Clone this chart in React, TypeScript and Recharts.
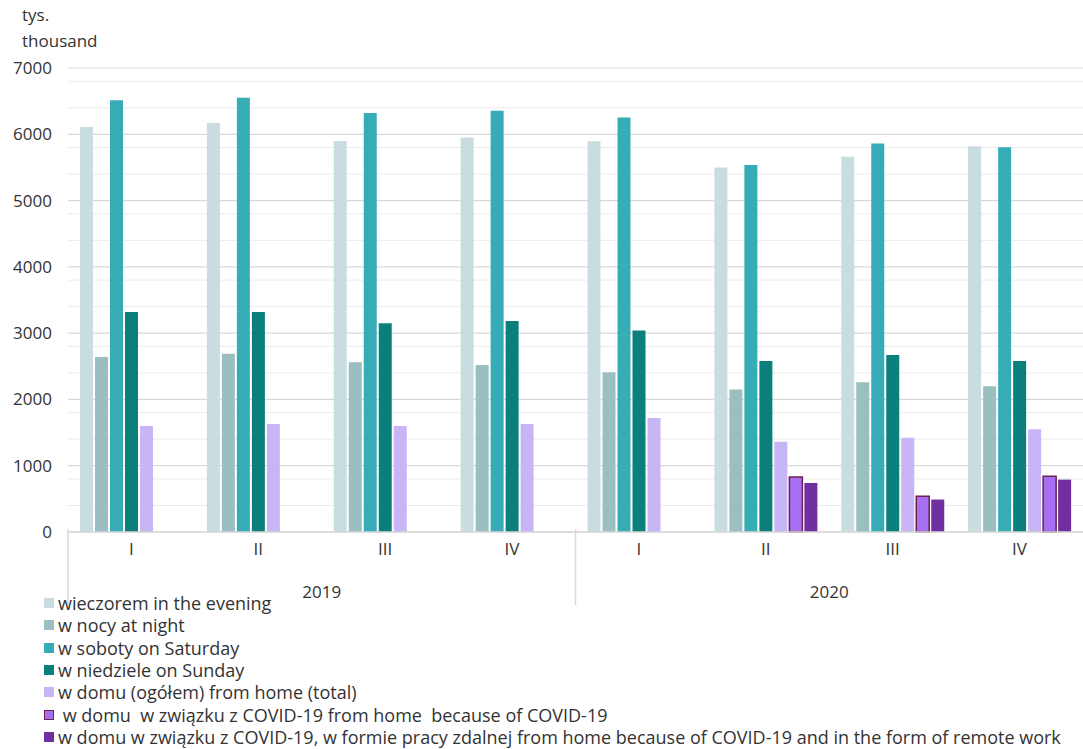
import { Bar, BarChart, CartesianGrid, Legend, XAxis, YAxis } from "recharts";

const quarters = ["I", "II", "III", "IV", "I", "II", "III", "IV"];
const years = ["2019", "2019", "2019", "2019", "2020", "2020", "2020", "2020"];

const evening = [6110, 6170, 5900, 5950, 5895, 5500, 5660, 5820];
const night = [2640, 2690, 2560, 2520, 2410, 2150, 2260, 2200];
const saturday = [6515, 6550, 6320, 6355, 6255, 5535, 5860, 5805];
const sunday = [3320, 3320, 3150, 3185, 3040, 2580, 2670, 2580];
const homeTotal = [1600, 1630, 1600, 1630, 1720, 1360, 1420, 1550];
const homeCovid = [null, null, null, null, null, 830, 540, 840];
const homeRemote = [null, null, null, null, null, 740, 490, 790];

const yTicks = [0, 1000, 2000, 3000, 4000, 5000, 6000, 7000];
const minorTicks = [
  200, 400, 600, 800, 1200, 1400, 1600, 1800, 2200, 2400, 2600, 2800, 3200, 3400, 3600, 3800,
  4200, 4400, 4600, 4800, 5200, 5400, 5600, 5800, 6200, 6400, 6600, 6800,
];

const series = [
  { key: "evening", name: "wieczorem in the evening", color: "#c9dcdf" },
  { key: "night", name: "w nocy at night", color: "#9bbfc1" },
  { key: "saturday", name: "w soboty on Saturday", color: "#36adb6" },
  { key: "sunday", name: "w niedziele on Sunday", color: "#0b7f7c" },
  { key: "homeTotal", name: "w domu (ogółem) from home (total)", color: "#c8b5f6" },
  { key: "homeCovid", name: " w domu  w związku z COVID-19 from home  because of COVID-19", color: "#a66ef0", stroke: "#6e2050" },
  {
    key: "homeRemote",
    name: "w domu w związku z COVID-19, w formie pracy zdalnej from home because of COVID-19 and in the form of remote work",
    color: "#7030a0",
  },
];

const data = quarters.map((q, i) => ({
  q,
  year: years[i],
  evening: evening[i],
  night: night[i],
  saturday: saturday[i],
  sunday: sunday[i],
  homeTotal: homeTotal[i],
  homeCovid: homeCovid[i],
  homeRemote: homeRemote[i],
}));

const FONT = "'Open Sans', sans-serif";

function YearTick(props: any) {
  const { x, y, payload } = props;
  const half = 1015 / 4;
  return (
    <g>
      <line x1={x - half} x2={x - half} y1={y - 43} y2={y + 33} stroke="#d9d9d9" strokeWidth={1.5} />
      <text x={x} y={y + 26} textAnchor="middle" fontSize={17} fill="#333" fontFamily={FONT}>
        {payload.value}
      </text>
    </g>
  );
}

function LegendBox() {
  return (
    <div style={{ fontFamily: FONT, fontSize: 18, color: "#333" }}>
      {series.map((s) => (
        <div key={s.key} style={{ display: "flex", alignItems: "center", height: 22.3, whiteSpace: "pre" }}>
          <span
            style={{
              display: "inline-block",
              width: s.stroke ? 8 : 10,
              height: s.stroke ? 8 : 10,
              background: s.color,
              border: s.stroke ? `1.5px solid ${s.stroke}` : "none",
              marginRight: 4,
            }}
          />
          {s.name}
        </div>
      ))}
    </div>
  );
}

export default function App() {
  return (
    <div style={{ position: "absolute", left: 0, top: 0, width: 1083, height: 749, background: "#fff" }}>
      <div style={{ position: "absolute", left: 22, top: 2, fontFamily: FONT, fontSize: 17, lineHeight: "26px", color: "#333" }}>
        <div>tys.</div>
        <div>thousand</div>
      </div>
      <BarChart
        width={1083}
        height={749}
        data={data}
        margin={{ top: 68, right: 0, left: 0, bottom: 140 }}
        barSize={13}
        barGap={2}
      >
        <CartesianGrid vertical={false} horizontalValues={minorTicks} stroke="#ebebeb" strokeWidth={1} />
        <CartesianGrid vertical={false} stroke="#d9d9d9" strokeWidth={1.2} />
        <XAxis
          dataKey="q"
          tickLine={false}
          axisLine={{ stroke: "#d9d9d9", strokeWidth: 1.5 }}
          tick={{ fontSize: 17, fill: "#333", fontFamily: FONT }}
          tickMargin={5}
          height={32}
        />
        <XAxis
          xAxisId="year"
          dataKey="year"
          allowDuplicatedCategory={false}
          tickLine={false}
          axisLine={false}
          tick={<YearTick />}
          height={45}
        />
        <YAxis
          width={68}
          domain={[0, 7000]}
          ticks={yTicks}
          tickLine={false}
          axisLine={false}
          tickSize={0}
          tickMargin={16}
          tick={{ fontSize: 17, fill: "#333", fontFamily: FONT }}
        />
        {series.map((s) => (
          <Bar
            key={s.key}
            dataKey={s.key}
            name={s.name}
            fill={s.color}
            stroke={s.stroke}
            strokeWidth={s.stroke ? 1.5 : 0}
            isAnimationActive={false}
          />
        ))}
        <Legend
          layout="vertical"
          align="center"
          verticalAlign="middle"
          content={<LegendBox />}
          wrapperStyle={{ left: 44, top: 592, width: 1039, height: 160 }}
        />
      </BarChart>
    </div>
  );
}
